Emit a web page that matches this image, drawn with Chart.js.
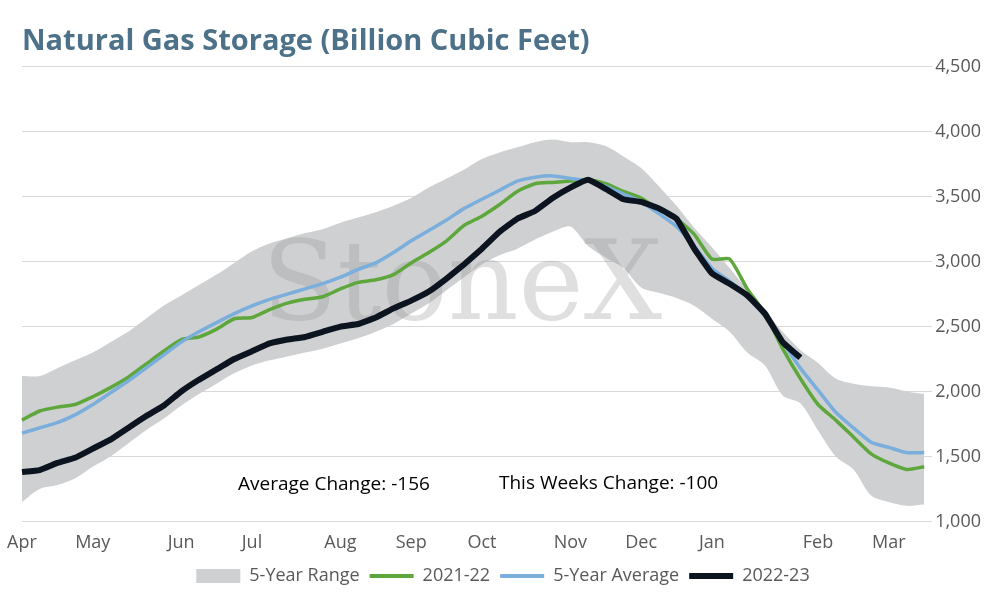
<!DOCTYPE html>
<html>
<head>
<meta charset="UTF-8">
<script src="https://cdn.jsdelivr.net/npm/chart.js@4.4.0/dist/chart.umd.min.js"></script>
<style>
  html, body { margin: 0; padding: 0; background: #fff; }
  #wrap { width: 994px; height: 600px; }
</style>
</head>
<body>
<div id="wrap"><canvas id="gas"></canvas></div>
<script>
// weekly points, April through March
const monthLabels = {0:'Apr',4:'May',9:'Jun',13:'Jul',18:'Aug',22:'Sep',26:'Oct',31:'Nov',35:'Dec',39:'Jan',45:'Feb',49:'Mar'};
const weeks = Array.from({length: 52}, (_, i) => i);

const rangeHigh = [2120,2120,2180,2240,2300,2380,2460,2560,2660,2740,2820,2900,2990,3080,3140,3180,3220,3250,3300,3340,3380,3430,3490,3570,3640,3710,3790,3840,3880,3920,3940,3920,3920,3890,3810,3720,3580,3430,3260,3110,2950,2780,2620,2460,2320,2220,2100,2060,2040,2030,2000,1980];
const rangeLow = [1150,1250,1280,1330,1420,1500,1600,1700,1790,1890,1980,2060,2140,2200,2240,2270,2300,2330,2370,2410,2460,2520,2600,2680,2780,2880,2980,3050,3100,3170,3230,3270,3120,3030,2950,2800,2760,2720,2660,2560,2460,2300,2200,1970,1910,1700,1500,1400,1200,1150,1120,1130];
const season2122 = [1780,1850,1880,1900,1960,2030,2110,2210,2310,2400,2420,2480,2560,2570,2630,2680,2710,2730,2790,2840,2860,2900,2990,3070,3160,3280,3350,3440,3540,3600,3610,3620,3630,3600,3540,3490,3400,3330,3210,3020,3020,2790,2600,2330,2100,1900,1780,1650,1520,1450,1400,1420];
const avg5yr = [1680,1720,1760,1820,1900,1990,2080,2180,2280,2380,2460,2530,2600,2660,2710,2750,2790,2830,2880,2940,2990,3070,3160,3240,3320,3410,3480,3550,3620,3650,3660,3640,3620,3580,3520,3460,3370,3270,3120,2950,2850,2730,2580,2380,2180,2010,1840,1720,1610,1570,1530,1530];
const season2223 = [1380,1395,1450,1490,1560,1630,1720,1810,1890,2000,2090,2170,2250,2310,2370,2400,2420,2460,2500,2520,2570,2640,2700,2770,2870,2980,3100,3230,3330,3390,3490,3570,3630,3560,3480,3460,3410,3330,3100,2910,2830,2740,2600,2380,2260];

const notes = ['Average Change: -156', 'This Weeks Change: -100'];

const extras = {
  id: 'extras',
  beforeDatasetsDraw(chart) {
    const {ctx} = chart;
    ctx.save();
    ctx.fillStyle = 'rgba(150,150,150,0.3)';
    ctx.font = '110px "DejaVu Serif", serif';
    ctx.textAlign = 'center';
    ctx.textBaseline = 'middle';
    ctx.fillText('StoneX', 462, 290);
    ctx.restore();
  },
  afterDatasetsDraw(chart) {
    const {ctx} = chart;
    ctx.save();
    ctx.fillStyle = '#000';
    ctx.font = '19px "Open Sans", sans-serif';
    ctx.textBaseline = 'middle';
    ctx.fillText(notes[0], 238, 485);
    ctx.fillText(notes[1], 499, 484);
    ctx.restore();
  }
};

const thin = 3.5;
new Chart(document.getElementById('gas'), {
  type: 'line',
  data: {
    labels: weeks,
    datasets: [
      { label: '5-Year Range', data: rangeHigh, borderWidth: 0, pointRadius: 0, backgroundColor: '#cfd0d1', fill: '+1', tension: 0.3, order: 10 },
      { label: 'low', data: rangeLow, borderWidth: 0, pointRadius: 0, backgroundColor: '#cfd0d1', fill: false, tension: 0.3, order: 11 },
      { label: '2021-22', data: season2122, borderColor: '#5ea73c', backgroundColor: '#5ea73c', borderWidth: thin, pointRadius: 0, tension: 0.2, order: 3 },
      { label: '5-Year Average', data: avg5yr, borderColor: '#7aaedc', backgroundColor: '#7aaedc', borderWidth: thin, pointRadius: 0, tension: 0.2, order: 2 },
      { label: '2022-23', data: season2223, borderColor: '#0c1420', backgroundColor: '#0c1420', borderWidth: 6, pointRadius: 0, tension: 0.1, order: 1 }
    ]
  },
  options: {
    responsive: true,
    maintainAspectRatio: false,
    animation: false,
    layout: { padding: { left: 22, right: 10, top: 0, bottom: 5 } },
    plugins: {
      filler: { drawTime: 'beforeDatasetsDraw' },
      title: {
        display: true, text: 'Natural Gas Storage (Billion Cubic Feet)', align: 'start',
        color: '#4d7189', font: { size: 29, weight: 'bold', family: '"Open Sans", sans-serif' },
        padding: { top: 24, bottom: 8 }
      },
      tooltip: { enabled: false },
      legend: {
        position: 'bottom',
        labels: {
          color: '#595959', font: { size: 18, family: '"Open Sans", sans-serif' },
          boxWidth: 44, boxHeight: 14,
          usePointStyle: true,
          pointStyleWidth: 44,
          generateLabels(chart) {
            return chart.data.datasets.map((d, i) => ({
              text: d.label, datasetIndex: i,
              fillStyle: i === 0 ? '#cfd0d1' : d.borderColor,
              strokeStyle: i === 0 ? '#cfd0d1' : d.borderColor,
              lineWidth: i === 0 ? 0 : (i === 4 ? 6 : 4),
              pointStyle: i === 0 ? 'rect' : 'line',
              fontColor: '#595959'
            })).filter(it => it.text !== 'low');
          }
        }
      }
    },
    scales: {
      x: {
        grid: { display: false },
        border: { display: false },
        ticks: {
          autoSkip: false, maxRotation: 0, color: '#595959',
          font: { size: 18, family: '"Open Sans", sans-serif' },
          callback: (v, i) => monthLabels[i] || ''
        }
      },
      y: {
        position: 'right', min: 1000, max: 4500,
        grid: { color: '#d9d9d9' },
        border: { display: false },
        ticks: {
          stepSize: 500, color: '#595959',
          font: { size: 18, family: '"Open Sans", sans-serif' },
          callback: v => v.toLocaleString('en-US')
        }
      }
    }
  },
  plugins: [extras]
});
</script>
</body>
</html>
